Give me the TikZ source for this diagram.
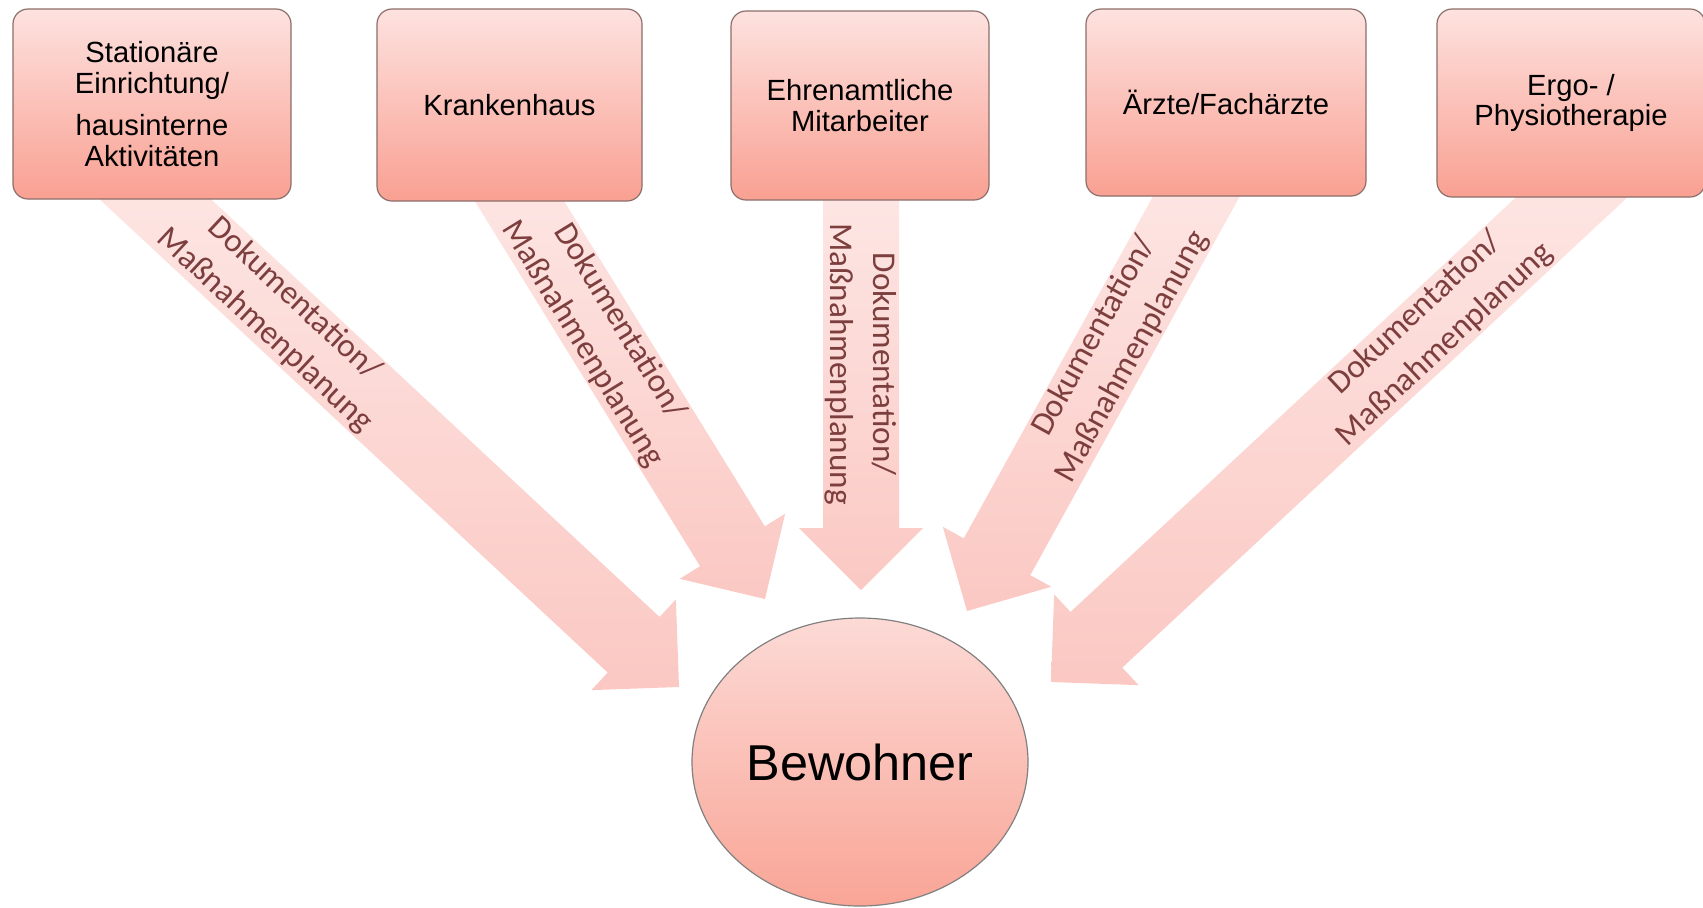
\documentclass[tikz,border=0pt]{standalone}
\usepackage{fontspec}
\setmainfont{Liberation Sans}
\newfontfamily\arrowfont{Carlito}
\usetikzlibrary{calc,shapes.geometric}
\definecolor{boxtop}{RGB}{253,226,223}
\definecolor{boxbot}{RGB}{249,160,146}
\definecolor{arrtop}{RGB}{253,234,232}
\definecolor{arrbot}{RGB}{251,200,195}
\definecolor{edgec}{RGB}{140,110,106}
\definecolor{lblc}{RGB}{125,62,62}
\definecolor{elltop}{RGB}{252,218,214}
\definecolor{ellbot}{RGB}{249,165,150}
\tikzset{
  srcbox/.style={rectangle, rounded corners=7.5pt, draw=edgec, line width=0.6pt,
    top color=boxtop, bottom color=boxbot, align=center, inner sep=2pt,
    font=\fontsize{14.6pt}{15.2pt}\selectfont},
  arrowshade/.style={top color=arrtop, bottom color=arrbot},
  arrowlabel/.style={text=lblc, align=center, inner sep=0pt,
    font=\arrowfont\fontsize{16.6pt}{21.5pt}\selectfont},
  resident/.style={ellipse, draw=gray, line width=0.6pt, top color=elltop,
    bottom color=ellbot, inner sep=0pt, font=\fontsize{25.2pt}{30pt}\selectfont}
}
\newcommand\blockarrow[2]{%
  \coordinate (ba-tail) at ($(#2)!1.15!(#1)$);
  \coordinate (ba-base) at ($(#2)!31pt!(#1)$);
  \shade[arrowshade] ($(ba-tail)!19pt!90:(#2)$) -- ($(ba-base)!19pt!90:(#2)$)
    -- ($(ba-base)!31pt!90:(#2)$) -- (#2) -- ($(ba-base)!31pt!-90:(#2)$)
    -- ($(ba-base)!19pt!-90:(#2)$) -- ($(ba-tail)!19pt!-90:(#2)$) -- cycle;
}
\begin{document}
\begin{tikzpicture}[x=0.5pt,y=-0.5pt]
\useasboundingbox (0,0) rectangle (1703,907);
\clip (0,0) rectangle (1703,907);
% arrow start points (box bottoms) and tips
\coordinate (s1) at (155,199);
\coordinate (s2) at (520,202);
\coordinate (s3) at (861,200);
\coordinate (s4) at (1196,197);
\coordinate (s5) at (1571,198);
\coordinate (t1) at (679,687);
\coordinate (t2) at (765,599);
\coordinate (t3) at (861,590);
\coordinate (t4) at (967,611);
\coordinate (t5) at (1051,682);
% block arrows
\blockarrow{s1}{t1}
\blockarrow{s2}{t2}
\blockarrow{s3}{t3}
\blockarrow{s4}{t4}
\blockarrow{s5}{t5}
% boxes
\node[srcbox, minimum width=139pt, minimum height=95pt] (b1) at (152,104)
  {Stationäre\\Einrichtung/\\[6pt]hausinterne\\Aktivitäten};
\node[srcbox, minimum width=132.5pt, minimum height=96pt] (b2) at (509.5,105) {Krankenhaus};
\node[srcbox, minimum width=129pt, minimum height=94.5pt] (b3) at (860,105.5) {Ehrenamtliche\\Mitarbeiter};
\node[srcbox, minimum width=140pt, minimum height=93.5pt] (b4) at (1226,102.5) {Ärzte/Fachärzte};
\node[srcbox, minimum width=134pt, minimum height=94pt] (b5) at (1571,103) {Ergo- /\\Physiotherapie};
% resident
\node[resident, minimum width=168pt, minimum height=144pt] (bew) at (860,762) {Bewohner};
% arrow labels
\node[arrowlabel, rotate=-43] (l1) at ($(s1)!85pt!(t1)$) {Dokumentation/\\Maßnahmenplanung};
\node[arrowlabel, rotate=-58.5] (l2) at ($(s2)!77pt!(t2)$) {Dokumentation/\\Maßnahmenplanung};
\node[arrowlabel, rotate=-90] (l3) at ($(s3)!82pt!(t3)$) {Dokumentation/\\Maßnahmenplanung};
\node[arrowlabel, rotate=61] (l4) at ($(s4)!85.5pt!(t4)$) {Dokumentation/\\Maßnahmenplanung};
\node[arrowlabel, rotate=43] (l5) at ($(s5)!96pt!(t5)$) {Dokumentation/\\Maßnahmenplanung};
\end{tikzpicture}
\end{document}
